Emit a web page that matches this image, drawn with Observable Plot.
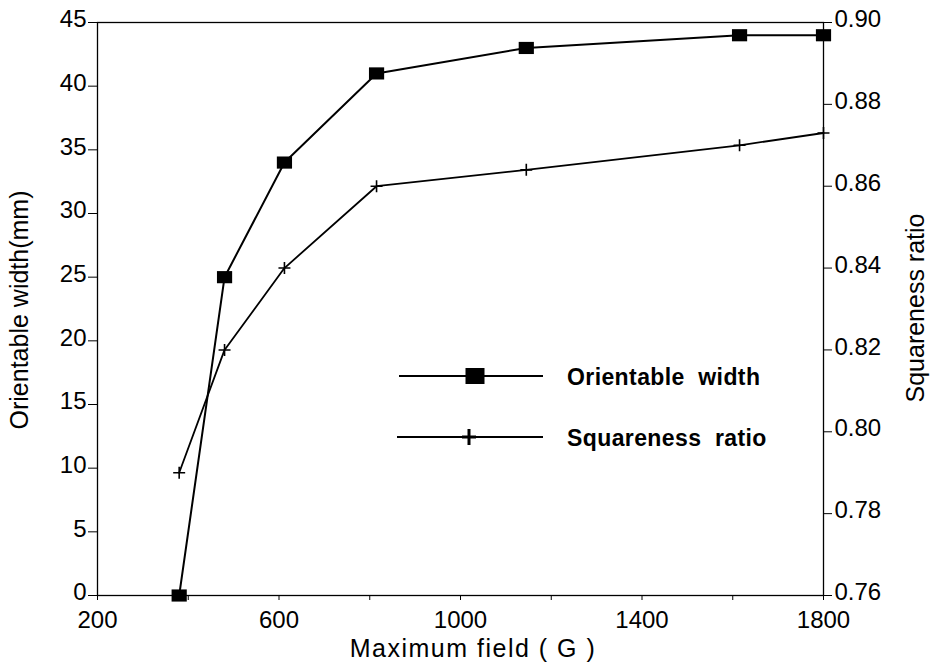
<!DOCTYPE html>
<html><head><meta charset="utf-8">
<script src="https://cdn.jsdelivr.net/npm/d3@7"></script>
<script src="https://cdn.jsdelivr.net/npm/@observablehq/plot@0.6"></script>
<style>
body{margin:0;background:#fff;}
#chart{width:931px;height:669px;overflow:hidden;}
</style></head><body><div id="chart"></div>
<script>
// ---- data ----
const field = [380, 480, 612, 815, 1145, 1615, 1800];
const orientableWidth = [0, 25, 34, 41, 43, 44, 44];
const squareness = [0.790, 0.820, 0.840, 0.860, 0.864, 0.870, 0.873];
const xTickValues = [200, 400, 600, 800, 1000, 1200, 1400, 1600, 1800];
const xTickLabels = [200, 600, 1000, 1400, 1800];
const leftTicks = [0, 5, 10, 15, 20, 25, 30, 35, 40, 45];
const rightTicks = [0.76, 0.78, 0.80, 0.82, 0.84, 0.86, 0.88, 0.90];
const seriesNames = ["Orientable  width", "Squareness  ratio"];

const leftDomain = [0, 45];
const rightDomain = [0.76, 0.90];
const toLeft = s => (s - rightDomain[0]) / (rightDomain[1] - rightDomain[0]) * (leftDomain[1] - leftDomain[0]) + leftDomain[0];
const toRight = v => rightDomain[0] + (v - leftDomain[0]) / (leftDomain[1] - leftDomain[0]) * (rightDomain[1] - rightDomain[0]);

const widthData = field.map((f, i) => ({field: f, value: orientableWidth[i]}));
const sqData = field.map((f, i) => ({field: f, value: squareness[i]}));

const crossSymbol = {
  draw(ctx, size) {
    const r = Math.sqrt(size / Math.PI) * 1.33;
    ctx.moveTo(-r, 0); ctx.lineTo(r, 0);
    ctx.moveTo(0, -r); ctx.lineTo(0, r);
  }
};
const rectSymbol = {
  draw(ctx, size) {
    const r = Math.sqrt(size / Math.PI);
    ctx.rect(-r, -r * 0.8, 2 * r, 1.6 * r);
  }
};

const W = 931, H = 669;
const mL = 97, mR = 108, mT = 22, mB = 74;
const font = "'Liberation Sans', Arial, sans-serif";
const rightTickPos = rightTicks.map(toLeft);
const rightFmt = d => toRight(d).toFixed(2);

const plot = Plot.plot({
  width: W, height: H,
  marginLeft: mL, marginRight: mR, marginTop: mT, marginBottom: mB,
  style: {fontFamily: font, fontSize: "24px", color: "#000", background: "#fff", overflow: "visible"},
  x: {domain: [200, 1800]},
  y: {domain: leftDomain},
  marks: [
    Plot.frame({stroke: "#000", strokeWidth: 1.3}),
    Plot.axisX({ticks: xTickValues, tickFormat: d => xTickLabels.includes(d) ? String(d) : "", tickSize: 5, tickPadding: 10, label: null, fontSize: 24}),
    // left axis: tick marks, then labels nudged up slightly
    Plot.axisY({ticks: leftTicks, tickSize: 9, tickFormat: () => "", label: null}),
    Plot.axisY({ticks: leftTicks, tickSize: 0, tickPadding: 11, label: null, fontSize: 24, dy: -3}),
    // right axis (squareness ratio)
    Plot.axisY({anchor: "right", ticks: rightTickPos, tickSize: 8, tickFormat: () => "", label: null}),
    Plot.axisY({anchor: "right", ticks: rightTickPos, tickFormat: rightFmt, tickSize: 0, tickPadding: 11, label: null, fontSize: 24, dy: -3}),
    Plot.line(widthData, {x: "field", y: "value", stroke: "#000", strokeWidth: 2}),
    Plot.dot(widthData, {x: "field", y: "value", symbol: rectSymbol, r: 7.6, fill: "#000", stroke: "none"}),
    Plot.line(sqData, {x: "field", y: d => toLeft(d.value), stroke: "#000", strokeWidth: 1.8}),
    Plot.dot(sqData, {x: "field", y: d => toLeft(d.value), symbol: crossSymbol, r: 4.5, stroke: "#000", strokeWidth: 1.6, fill: "none"})
  ]
});
document.getElementById("chart").appendChild(plot);

// ---- titles and legend ----
const svg = d3.select(plot);
svg.append("text").attr("x", 473).attr("y", 657)
  .attr("text-anchor", "middle").attr("font-family", font).attr("font-size", 25)
  .attr("letter-spacing", 1.5).attr("fill", "#000").style("white-space", "pre")
  .text("Maximum field ( G )");
svg.append("text").attr("transform", `translate(28,310) rotate(-90)`)
  .attr("text-anchor", "middle").attr("font-family", font).attr("font-size", 25).attr("fill", "#000")
  .text("Orientable width(mm)");
svg.append("text").attr("transform", `translate(924,308) rotate(-90)`)
  .attr("text-anchor", "middle").attr("font-family", font).attr("font-size", 25).attr("fill", "#000")
  .text("Squareness ratio");

const lg = svg.append("g");
const rows = [{y: 376, sx: 475, x1: 399}, {y: 437, sx: 469, x1: 397}];
rows.forEach((r, i) => {
  lg.append("line").attr("x1", r.x1).attr("x2", 543).attr("y1", r.y).attr("y2", r.y)
    .attr("stroke", "#000").attr("stroke-width", 2);
  if (i === 0) {
    lg.append("rect").attr("x", r.sx - 9.5).attr("y", r.y - 8).attr("width", 19).attr("height", 16).attr("fill", "#000");
  } else {
    lg.append("path").attr("d", `M${r.sx - 7},${r.y}H${r.sx + 7}M${r.sx},${r.y - 8}V${r.y + 8}`)
      .attr("stroke", "#000").attr("stroke-width", 3);
  }
  lg.append("text").attr("x", 567).attr("y", r.y + 9)
    .attr("text-anchor", "start")
    .attr("font-family", font).attr("font-size", 23).attr("font-weight", "bold")
    .attr("letter-spacing", 0.4).attr("fill", "#000").style("white-space", "pre")
    .text(seriesNames[i]);
});
</script>
</body></html>
